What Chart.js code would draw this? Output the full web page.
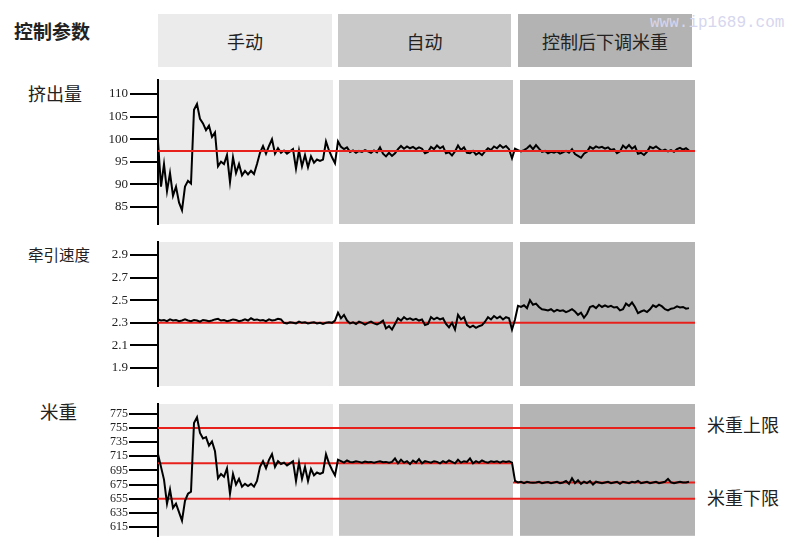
<!DOCTYPE html>
<html><head><meta charset="utf-8">
<script src="https://cdn.jsdelivr.net/npm/chart.js@4"></script>
<style>
html,body{margin:0;padding:0;background:#fff;overflow:hidden;width:800px;height:546px;}
.lbl{position:absolute;font-family:"Noto Sans CJK SC",sans-serif;color:#222;white-space:nowrap;line-height:1;}
.hdr{position:absolute;top:14px;height:53px;display:flex;align-items:center;justify-content:center;font-family:"Noto Sans CJK SC",sans-serif;font-size:18px;color:#222;}
.cv{position:absolute;left:0;}
.wm{position:absolute;left:650px;top:14px;font-family:"Liberation Mono",monospace;font-size:16px;color:#d6d6ee;white-space:nowrap;}
</style></head><body>
<div class="lbl" style="left:14px;top:21px;font-size:19px;font-weight:bold;">控制参数</div>
<div id="h0" class="hdr" style="left:158px;width:174px;background:#ebebeb;"></div>
<div id="h1" class="hdr" style="left:338px;width:173px;background:#c9c9c9;"></div>
<div id="h2" class="hdr" style="left:518px;width:174px;background:#b3b3b3;"></div>
<div class="wm">www.ip1689.com</div>
<div class="lbl" style="left:28px;top:84px;font-size:18px;">挤出量</div>
<div class="lbl" style="left:28px;top:247px;font-size:15.5px;">牵引速度</div>
<div class="lbl" style="left:40px;top:402px;font-size:18.5px;">米重</div>
<div class="lbl" style="left:707px;top:415px;font-size:18px;">米重上限</div>
<div class="lbl" style="left:707px;top:488px;font-size:18px;">米重下限</div>
<canvas id="c1" class="cv" width="800" height="164" style="top:70px"></canvas>
<canvas id="c2" class="cv" width="800" height="164" style="top:232px"></canvas>
<canvas id="c3" class="cv" width="800" height="150" style="top:394px"></canvas>
<script>
// ---- phases ----
const phases = ['手动', '自动', '控制后下调米重'];
const phaseStart = [0, 60.33, 120.67];
const phaseEnd = [58.33, 118.33, 179];
const phaseColors = ['#ebebeb', '#c9c9c9', '#b4b4b4'];

// ---- series (one sample per step) ----
const extrusion = [
 99.5, 89.5, 94.5, 88.5, 92.5, 87.5, 89.5, 86, 84.3, 89.5,
 90.8, 90.2, 106.5, 107.8, 104.5, 103.5, 102, 103, 100.5, 101.5,
 94, 95, 94.5, 96.5, 90.5, 96, 92.5, 94.5, 92, 93,
 92.2, 93, 92.3, 94.5, 97, 98.5, 96.8, 98.5, 100, 96.8,
 98, 97, 97.5, 96.8, 97.3, 97.8, 93.5, 97.5, 94, 96.5,
 93.8, 96.2, 94.8, 95.5, 95.2, 95.5, 99.5, 97.5, 96, 94.7,
 99.5, 98.3, 97.8, 98.2, 97.2, 97.5, 97.0, 97.4, 97.2, 97.6,
 97.3, 97.0, 97.5, 97.1, 98.2, 96.8, 96.2, 97.0, 96.3, 96.9,
 97.8, 98.5, 97.9, 98.4, 98.0, 98.3, 97.8, 98.2, 97.9, 96.9,
 97.2, 98.3, 97.8, 98.6, 98.0, 98.4, 96.9, 97.1, 96.4, 97.3,
 98.6, 97.6, 98.2, 97.0, 96.9, 97.4, 96.6, 97.0, 96.5, 97.3,
 98.0, 97.6, 98.4, 98.0, 98.7, 98.1, 98.5, 97.8, 95.8, 97.9,
 97.6, 97.3, 97.6, 98.0, 98.6, 97.8, 98.7, 97.9, 97.2, 97.4,
 96.9, 97.2, 97.0, 97.3, 96.8, 97.1, 97.4, 97.0, 97.8, 96.7,
 96.3, 95.9, 96.8, 97.2, 98.3, 97.9, 98.4, 98.1, 98.3, 97.9,
 98.2, 97.6, 97.8, 96.9, 97.3, 98.6, 98.0, 98.7, 97.9, 98.4,
 96.8, 97.0, 96.5, 97.2, 98.3, 98.0, 98.4, 97.9, 97.4, 97.7,
 97.3, 97.6, 97.2, 97.8, 98.1, 97.7, 98.0, 97.5
];
const haulSpeed = [
 2.33, 2.32, 2.325, 2.315, 2.33, 2.32, 2.325, 2.315, 2.32, 2.33,
 2.32, 2.315, 2.325, 2.32, 2.31, 2.325, 2.32, 2.315, 2.32, 2.33,
 2.335, 2.32, 2.325, 2.315, 2.32, 2.33, 2.325, 2.315, 2.32, 2.33,
 2.32, 2.34, 2.325, 2.33, 2.32, 2.325, 2.315, 2.33, 2.32, 2.325,
 2.335, 2.33, 2.30, 2.295, 2.305, 2.30, 2.295, 2.31, 2.30, 2.305,
 2.295, 2.30, 2.305, 2.295, 2.30, 2.29, 2.30, 2.305, 2.30, 2.32,
 2.39, 2.34, 2.37, 2.32, 2.295, 2.305, 2.29, 2.31, 2.30, 2.285,
 2.30, 2.31, 2.295, 2.285, 2.30, 2.32, 2.25, 2.27, 2.24, 2.29,
 2.34, 2.32, 2.35, 2.33, 2.34, 2.325, 2.335, 2.32, 2.33, 2.28,
 2.29, 2.35, 2.33, 2.345, 2.33, 2.34, 2.29, 2.26, 2.30, 2.24,
 2.37, 2.33, 2.35, 2.28, 2.26, 2.275, 2.255, 2.27, 2.28, 2.31,
 2.35, 2.33, 2.36, 2.34, 2.355, 2.33, 2.35, 2.34, 2.24, 2.33,
 2.45, 2.44, 2.455, 2.43, 2.50, 2.46, 2.47, 2.44, 2.42, 2.415,
 2.41, 2.42, 2.40, 2.415, 2.405, 2.41, 2.395, 2.405, 2.42, 2.40,
 2.37, 2.39, 2.345, 2.38, 2.44, 2.45, 2.43, 2.46, 2.44, 2.455,
 2.44, 2.45, 2.435, 2.44, 2.41, 2.42, 2.47, 2.45, 2.48, 2.44,
 2.385, 2.40, 2.41, 2.395, 2.42, 2.455, 2.44, 2.46, 2.445, 2.42,
 2.41, 2.425, 2.43, 2.445, 2.435, 2.44, 2.425, 2.43
];
const meterWeight = [
 718, 700, 682, 648, 668, 642, 648, 636, 624, 652,
 662, 665, 762, 770, 748, 740, 742, 730, 736, 722,
 684, 690, 686, 698, 662, 690, 675, 683, 672, 676,
 673, 676, 672, 680, 700, 708, 698, 710, 718, 700,
 708, 704, 706, 702, 705, 708, 680, 706, 683, 700,
 680, 697, 688, 692, 690, 692, 718, 705, 696, 688,
 710, 708, 706, 709, 707, 706.5, 708, 707, 706, 707.5,
 706.5, 707, 706, 707, 708, 706.5, 707, 706, 707, 712,
 705, 710, 706, 708, 704, 709, 706, 711, 705, 708,
 707, 706, 708, 707, 705, 708, 706, 709, 707, 705,
 710, 706, 708, 707, 712, 705, 708, 706, 709, 707,
 706, 708, 707, 708, 706, 708, 707, 708, 706, 680,
 678, 679, 677, 679, 678, 677.5, 678, 679, 677, 678,
 678.5, 677, 678, 679, 677, 678, 680, 676, 684, 677,
 681, 676, 679, 677, 680, 675, 679, 678, 677, 678,
 679, 677, 678, 679, 676, 679, 678, 677, 679, 678,
 680, 677, 678, 679, 677, 678, 679, 677, 678, 679,
 683, 678, 677, 678, 679, 678, 678, 679
];

// ---- reference values ----
const extrusionSet = 97.4;
const speedSet = 2.3;
const weightUpper = 755;
const weightLower = 655;
const weightTarget = [705, 678];

// ---- tick labels ----
const extrusionTicks = [85, 90, 95, 100, 105, 110];
const speedTicks = [1.9, 2.1, 2.3, 2.5, 2.7, 2.9];
const weightTicks = [615, 635, 655, 675, 695, 715, 735, 755, 775];

phases.forEach((p, k) => { document.getElementById('h' + k).textContent = p; });

const RED = '#e8201c';
const toXY = arr => arr.map((v, i) => ({ x: i, y: v }));
const hline = (v, a, b) => [{ x: a, y: v }, { x: b, y: v }];
const X_MAX = 179;

const bandPlugin = {
  id: 'bands',
  beforeDraw(chart) {
    const { ctx, chartArea: { top, bottom }, scales: { x } } = chart;
    ctx.save();
    phaseStart.forEach((s, k) => {
      const x0 = x.getPixelForValue(s), x1 = x.getPixelForValue(phaseEnd[k]);
      ctx.fillStyle = phaseColors[k];
      ctx.fillRect(x0, top, x1 - x0, bottom - top);
    });
    ctx.restore();
  }
};

function lineDs(data, color, width) {
  return { data, borderColor: color, borderWidth: width, pointRadius: 0, fill: false, tension: 0 };
}

function makeChart(id, datasets, min, max, ticks, fmt, fontSize, tickLen, pad, padBottom) {
  new Chart(document.getElementById(id), {
    type: 'line',
    data: { datasets },
    plugins: [bandPlugin],
    options: {
      responsive: false,
      animation: false,
      events: [],
      layout: { padding: { left: 0, right: 105, top: 10, bottom: padBottom } },
      plugins: { legend: { display: false }, tooltip: { enabled: false } },
      scales: {
        x: { type: 'linear', min: 0, max: X_MAX, display: false },
        y: {
          min, max,
          afterBuildTicks: s => { s.ticks = ticks.map(v => ({ value: v })); },
          afterFit: s => { s.width = 158; },
          border: { display: true, color: '#000', width: 2 },
          grid: { drawOnChartArea: false, drawTicks: true, tickLength: tickLen, color: '#000', lineWidth: 2 },
          ticks: { autoSkip: false, padding: pad, color: '#222',
                   font: { family: 'Liberation Serif', size: fontSize },
                   callback: v => fmt(v) }
        }
      }
    }
  });
}

makeChart('c1', [
  lineDs(hline(extrusionSet, 0, X_MAX), RED, 2),
  lineDs(toXY(extrusion), '#000', 2)
], 81.24, 113.1, extrusionTicks, v => String(v), 13, 28, 2, 10);

makeChart('c2', [
  lineDs(toXY(haulSpeed), '#000', 2),
  lineDs(hline(speedSet, 0, X_MAX), RED, 2)
], 1.741, 3.015, speedTicks, v => v.toFixed(1), 13, 28, 2, 10);

makeChart('c3', [
  lineDs(toXY(meterWeight), '#000', 2),
  lineDs(hline(weightUpper, 0, X_MAX), RED, 2),
  lineDs(hline(weightLower, 0, X_MAX), RED, 2),
  lineDs(hline(weightTarget[0], 0, phaseEnd[1]), RED, 2),
  lineDs(hline(weightTarget[1], phaseEnd[1], X_MAX), RED, 2)
], 602.6, 788.8, weightTicks, v => String(v), 12, 29, 1, 5);
</script>
</body></html>
